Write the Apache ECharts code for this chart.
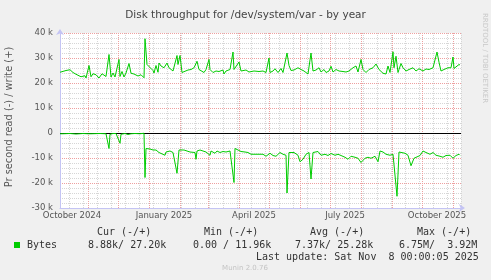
<!DOCTYPE html>
<html>
<head>
<meta charset="utf-8">
<script src="https://cdn.jsdelivr.net/npm/echarts@6/dist/echarts.min.js"></script>
<style>
html,body{margin:0;padding:0;background:#F0F0F0;}
#c{width:491px;height:280px;}
</style>
</head>
<body>
<div id="c"></div>
<script>
// ---- axis / category data ----
const startDay = Date.UTC(2024, 9, 4);   // first category: 2024-10-04
const dayCount = 402;                     // through 2025-11-09
const days = [];
for (let i = 0; i < dayCount; i++) days.push(new Date(startDay + i * 86400000).toISOString().slice(0, 10));

const labelDates = ['2024-10-16', '2025-01-16', '2025-04-16', '2025-07-16', '2025-10-16'];
const labelTexts = ['October 2024', 'January 2025', 'April 2025', 'July 2025', 'October 2025'];
const minorGridStart = 9;   // 2024-10-13
const minorGridStep = 14;
const yTicks = [-30, -20, -10, 0, 10, 20, 30, 40];

// ---- series: write (+), in k per second; vertices as day index + value ----
const writeDay = [0,1,6,10,13,16,18,21,25,26,29,31,33,36,39,42,43,46,49,51,53,55,59,60,62,64,66,69,71,74,78,81,84,85,87,89,93,94,96,98,99,101,103,104,107,109,113,114,117,118,120,122,124,128,131,134,137,139,141,144,146,149,150,153,156,159,163,164,166,168,170,173,174,176,179,181,183,186,189,191,194,199,203,206,209,210,213,215,218,221,223,227,229,231,234,238,241,244,248,249,251,253,256,259,261,264,266,269,271,273,276,279,283,286,289,293,296,298,301,303,306,309,313,316,319,323,326,328,330,333,334,336,338,339,341,343,346,349,353,356,359,363,366,369,373,375,377,379,381,384,388,391,393,394,396,399,400];
const writeK = [24.3,24.4,25.0,25.3,24.2,23.5,23.9,22.5,22.9,22.0,27.0,22.5,23.7,23.3,22.0,23.7,24.3,22.6,31.4,22.4,24.0,22.4,29.4,22.6,24.6,22.4,24.0,27.8,23.9,23.6,22.8,23.3,22.1,37.7,27.4,26.8,25.0,24.0,27.0,24.3,28.0,26.8,27.4,26.1,28.0,26.1,24.8,24.2,31.0,27.4,31.0,24.2,24.8,25.2,25.4,26.1,28.7,25.4,24.8,24.2,25.4,29.4,25.4,24.2,24.8,24.6,25.2,23.6,24.8,24.4,25.4,32.4,25.4,24.8,28.4,24.8,24.4,25.2,24.4,23.6,24.8,24.6,24.8,24.2,30.0,24.2,24.8,25.7,24.2,25.8,24.2,32.0,27.0,25.0,25.2,26.1,25.4,24.8,23.6,22.9,32.0,24.8,25.2,26.1,24.4,25.4,24.2,24.8,26.7,24.4,25.4,24.8,24.6,24.4,24.8,26.1,26.8,24.4,29.4,25.4,24.2,25.4,26.1,27.6,25.4,23.9,23.6,26.8,24.2,32.5,26.1,30.7,24.2,25.4,27.8,26.1,24.8,25.4,26.1,24.8,25.7,24.8,25.6,25.4,26.1,26.8,32.4,28.3,24.8,25.4,26.1,26.1,30.4,25.8,26.1,27.4,27.2];

// ---- series: read (-), in k per second ----
const readDay = [0,3,10,16,23,28,30,31,40,46,49,50,53,55,56,60,61,65,68,71,75,80,84,85,86,90,93,96,99,101,105,106,110,113,115,117,119,121,124,126,130,132,135,136,137,140,143,146,150,151,155,157,160,163,166,170,172,174,175,178,181,185,188,191,196,200,203,206,210,213,216,220,223,226,227,229,231,234,238,240,243,246,249,251,253,255,258,261,265,268,271,275,278,281,285,288,291,295,298,301,305,308,311,315,318,320,323,326,330,333,335,337,339,341,345,348,351,354,356,360,363,366,370,373,376,380,383,386,390,393,396,399,400];
const readK = [-0.3,-0.3,-0.2,-0.4,-0.2,-0.3,-1.0,-0.3,-0.2,-0.3,-6.2,-0.5,-0.2,-1.0,-0.2,-4.1,-0.5,-0.2,-0.6,-0.3,-0.2,-0.3,-0.1,-17.8,-6.2,-6.4,-6.8,-6.8,-7.8,-7.2,-8.9,-7.6,-7.2,-7.8,-7.2,-16.1,-6.8,-7.2,-6.8,-7.2,-7.6,-7.2,-7.8,-10.5,-7.2,-6.8,-7.2,-7.6,-8.9,-7.2,-8.1,-7.2,-7.8,-7.4,-7.6,-7.2,-7.8,-19.8,-6.2,-6.8,-7.4,-7.6,-7.8,-8.5,-8.5,-8.5,-8.5,-9.3,-8.1,-9.0,-9.3,-7.8,-8.5,-8.9,-24.0,-7.8,-8.1,-7.8,-8.9,-11.5,-10.5,-8.5,-7.8,-18.4,-7.8,-7.2,-7.4,-8.9,-8.5,-9.0,-8.2,-8.9,-8.5,-9.0,-9.7,-10.5,-9.3,-9.7,-10.1,-11.8,-10.1,-9.7,-10.1,-9.3,-11.5,-7.2,-7.6,-8.5,-8.9,-8.5,-9.3,-25.3,-7.6,-7.8,-8.1,-8.9,-13.1,-10.1,-9.3,-9.0,-7.2,-7.8,-8.5,-7.8,-8.9,-9.3,-9.7,-9.0,-8.9,-10.1,-9.0,-8.5,-8.9];

// ---- legend texts ----
const legendHeaders = ['Cur (-/+)', 'Min (-/+)', 'Avg (-/+)', 'Max (-/+)'];
const legendName = 'Bytes';
const legendValues = ['8.88k/ 27.20k', '0.00 / 11.96k', '7.37k/ 25.28k', '6.75M/  3.92M'];
const lastUpdate = 'Last update: Sat Nov  8 00:00:05 2025';

const GREEN = '#00CC00';
const MONO = '10px "DejaVu Sans Mono", monospace';
const headerX = [97, 204, 310, 417];
const valueX = [88, 193, 295, 399];

const chart = echarts.init(document.getElementById('c'), null, {renderer: 'canvas'});

const graphics = [
  {type: 'text', x: 9.5, y: 117, rotation: Math.PI / 2,
   style: {text: 'Pr second read (-) / write (+)', font: '9.8px "DejaVu Sans"', fill: '#555', align: 'center', verticalAlign: 'middle'}},
  {type: 'text', x: 485, y: 58, rotation: -Math.PI / 2,
   style: {text: 'RRDTOOL / TOBI OETIKER', font: '7px "DejaVu Sans"', fill: '#c8c8c8', align: 'center', verticalAlign: 'middle'}},
  {type: 'rect', shape: {x: 14, y: 242, width: 6, height: 6}, style: {fill: GREEN}},
  {type: 'text', x: 27, y: 245, style: {text: legendName, font: MONO, fill: '#333', align: 'left', verticalAlign: 'middle'}},
  {type: 'text', x: 256, y: 257, style: {text: lastUpdate, font: MONO, fill: '#333', align: 'left', verticalAlign: 'middle'}},
  {type: 'text', x: 245, y: 268, style: {text: 'Munin 2.0.76', font: '7px "DejaVu Sans"', fill: '#c4c4c4', align: 'center', verticalAlign: 'middle'}}
];
legendHeaders.forEach((t, i) => graphics.push({type: 'text', x: headerX[i], y: 232, style: {text: t, font: MONO, fill: '#333', align: 'left', verticalAlign: 'middle'}}));
legendValues.forEach((t, i) => graphics.push({type: 'text', x: valueX[i], y: 245, style: {text: t, font: MONO, fill: '#333', align: 'left', verticalAlign: 'middle'}}));

const option = {
  animation: false,
  backgroundColor: '#F0F0F0',
  title: {
    text: 'Disk throughput for /dev/system/var - by year',
    left: 'center', top: 5,
    textStyle: {fontFamily: 'DejaVu Sans', fontSize: 10.5, fontWeight: 'normal', color: '#444'}
  },
  grid: {left: 60, top: 33, width: 401, height: 175, show: true, backgroundColor: '#FFFFFF', borderWidth: 0, containLabel: false},
  xAxis: [
    {
      type: 'category', data: days, boundaryGap: false, position: 'bottom',
      axisLine: {show: true, onZero: false, symbol: ['none', 'arrow'], symbolSize: [6, 6], symbolOffset: [0, 4], lineStyle: {color: '#c4c4f4', width: 1}},
      axisTick: {show: false},
      axisLabel: {
        interval: (idx, val) => labelDates.indexOf(val) >= 0,
        formatter: (val) => { const k = labelDates.indexOf(val); return k >= 0 ? labelTexts[k] : ''; },
        margin: 3, color: '#555', fontFamily: 'DejaVu Sans', fontSize: 8.5
      },
      splitLine: {show: true, interval: (idx, val) => val.slice(8) === '01', lineStyle: {color: '#eea0a0', type: [1, 1], width: 1}},
      z: 3
    },
    {
      type: 'category', data: days, boundaryGap: false, position: 'top',
      axisLine: {show: false}, axisTick: {show: false}, axisLabel: {show: false},
      splitLine: {show: true, interval: (idx) => idx >= minorGridStart && (idx - minorGridStart) % minorGridStep === 0, lineStyle: {color: '#d6d6d6', type: [1, 1], width: 1}},
      z: 1
    }
  ],
  yAxis: {
    type: 'value', min: yTicks[0], max: yTicks[yTicks.length - 1], interval: 10,
    axisLine: {show: true, onZero: false, symbol: ['none', 'arrow'], symbolSize: [6, 6], symbolOffset: [0, 4], lineStyle: {color: '#c4c4f4', width: 1}},
    axisTick: {show: false},
    axisLabel: {formatter: (v) => v === 0 ? '0' : v + ' k', margin: 7, color: '#555', fontFamily: 'DejaVu Sans', fontSize: 8.5},
    splitLine: {show: true, lineStyle: {color: '#eea0a0', type: [1, 1], width: 1}},
    minorTick: {show: false, splitNumber: 5},
    minorSplitLine: {show: true, lineStyle: {color: '#d6d6d6', type: [1, 1], width: 1}}
  },
  series: [
    {
      name: 'write', type: 'line', xAxisIndex: 0, showSymbol: false, silent: true,
      data: writeDay.map((d, i) => [days[d], writeK[i]]),
      lineStyle: {color: GREEN, width: 1}, itemStyle: {color: GREEN},
      markLine: {silent: true, symbol: ['none', 'none'], label: {show: false},
        lineStyle: {color: '#000', type: 'solid', width: 1}, data: [{yAxis: 0}]},
      z: 4
    },
    {
      name: 'read', type: 'line', xAxisIndex: 0, showSymbol: false, silent: true,
      data: readDay.map((d, i) => [days[d], readK[i]]),
      lineStyle: {color: GREEN, width: 1}, itemStyle: {color: GREEN},
      z: 5
    }
  ],
  graphic: graphics
};
chart.setOption(option);
</script>
</body>
</html>
